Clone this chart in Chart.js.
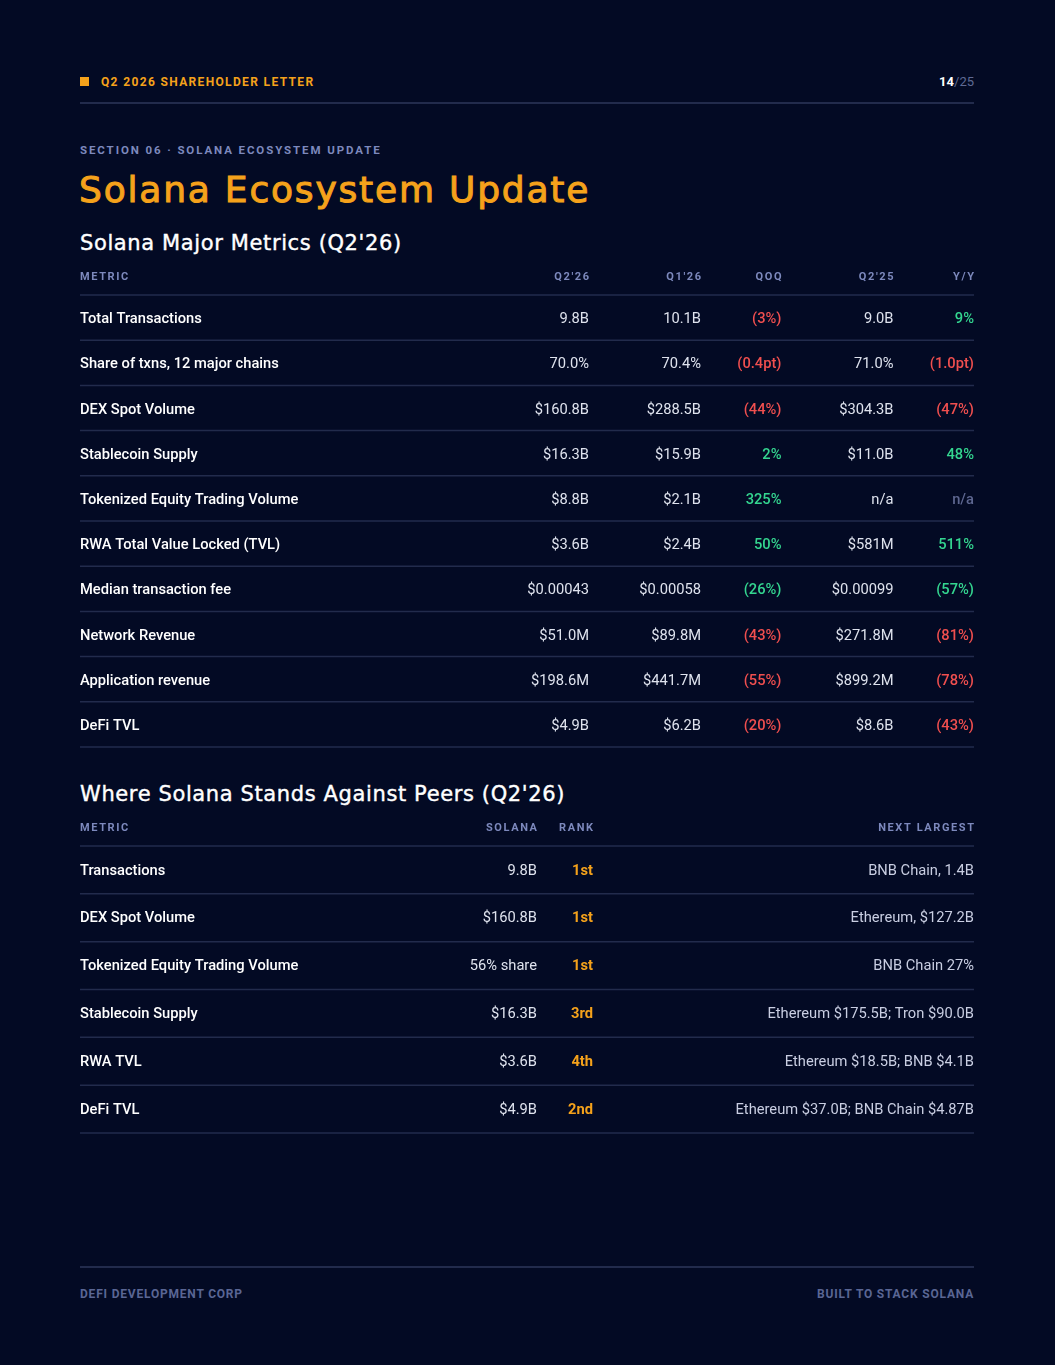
<!DOCTYPE html>
<html>
<head>
<meta charset="utf-8">
<script src="https://cdn.jsdelivr.net/npm/chart.js@4"></script>
<style>
  html, body { margin: 0; padding: 0; }
  body {
    width: 1055px; height: 1365px; position: relative; overflow: hidden;
    background: #030a24; font-family: Roboto, "Noto Sans", sans-serif;
  }
  .abs { position: absolute; white-space: nowrap; }
  .kicker { left: 80px; top: 75px; font-size: 12px; font-weight: 700; letter-spacing: 1.35px; color: #f5a21b; }
  .kicker i { display: inline-block; width: 9px; height: 9px; background: #f5a21b; margin-right: 12px; vertical-align: 0px; }
  .page { right: 81px; top: 74px; font-size: 13px; color: #5f6a94; }
  .page b { color: #ffffff; }
  .rule { left: 80px; width: 894px; height: 2px; background: #222b4c; }
  .section { left: 80px; top: 143px; font-size: 11.5px; font-weight: 700; letter-spacing: 1.9px; color: #7d89bd; }
  .title { left: 79px; top: 169px; font-family: "DejaVu Sans", sans-serif; font-size: 36px; font-weight: 400; -webkit-text-stroke: 1px #f5a21b; letter-spacing: 1.8px; color: #f5a21b; }
  .sub { left: 80px; font-family: "DejaVu Sans", sans-serif; font-size: 21px; font-weight: 400; -webkit-text-stroke: 0.4px #ffffff; letter-spacing: 0.62px; color: #ffffff; }
  .foot { top: 1287px; font-size: 12px; font-weight: 700; letter-spacing: 0.8px; color: #5a6694; }
  canvas { position: absolute; left: 80px; }
</style>
</head>
<body>
<div class="abs kicker"><i></i>Q2 2026 SHAREHOLDER LETTER</div>
<div class="abs page"><b>14</b>/25</div>
<div class="abs rule" style="top:102px"></div>
<div class="abs section">SECTION 06 · SOLANA ECOSYSTEM UPDATE</div>
<div class="abs title">Solana Ecosystem Update</div>
<div class="abs sub" style="top:231px">Solana Major Metrics (Q2'26)</div>
<div class="abs sub" style="top:782px">Where Solana Stands Against Peers (Q2'26)</div>
<canvas id="metricsTable" width="894" height="490" style="top:259px"></canvas>
<canvas id="peersTable" width="894" height="325" style="top:810px"></canvas>
<div class="abs rule" style="top:1266px"></div>
<div class="abs foot" style="left:80px">DEFI DEVELOPMENT CORP</div>
<div class="abs foot" style="right:81px">BUILT TO STACK SOLANA</div>

<script>
// table 1: major metrics
const metricHeaders = ['METRIC', "Q2'26", "Q1'26", 'QOQ', "Q2'25", 'Y/Y'];
const metricNames = [
  'Total Transactions', 'Share of txns, 12 major chains', 'DEX Spot Volume', 'Stablecoin Supply',
  'Tokenized Equity Trading Volume', 'RWA Total Value Locked (TVL)', 'Median transaction fee',
  'Network Revenue', 'Application revenue', 'DeFi TVL'
];
const q2_26 = ['9.8B', '70.0%', '$160.8B', '$16.3B', '$8.8B', '$3.6B', '$0.00043', '$51.0M', '$198.6M', '$4.9B'];
const q1_26 = ['10.1B', '70.4%', '$288.5B', '$15.9B', '$2.1B', '$2.4B', '$0.00058', '$89.8M', '$441.7M', '$6.2B'];
const qoq = ['(3%)', '(0.4pt)', '(44%)', '2%', '325%', '50%', '(26%)', '(43%)', '(55%)', '(20%)'];
const qoqTone = ['neg', 'neg', 'neg', 'pos', 'pos', 'pos', 'pos', 'neg', 'neg', 'neg'];
const q2_25 = ['9.0B', '71.0%', '$304.3B', '$11.0B', 'n/a', '$581M', '$0.00099', '$271.8M', '$899.2M', '$8.6B'];
const yoy = ['9%', '(1.0pt)', '(47%)', '48%', 'n/a', '511%', '(57%)', '(81%)', '(78%)', '(43%)'];
const yoyTone = ['pos', 'neg', 'neg', 'pos', 'na', 'pos', 'pos', 'neg', 'neg', 'neg'];

// table 2: peers
const peerHeaders = ['METRIC', 'SOLANA', 'RANK', 'NEXT LARGEST'];
const peerNames = ['Transactions', 'DEX Spot Volume', 'Tokenized Equity Trading Volume', 'Stablecoin Supply', 'RWA TVL', 'DeFi TVL'];
const solanaVals = ['9.8B', '$160.8B', '56% share', '$16.3B', '$3.6B', '$4.9B'];
const rankVals = ['1st', '1st', '1st', '3rd', '4th', '2nd'];
const nextLargest = [
  'BNB Chain, 1.4B', 'Ethereum, $127.2B', 'BNB Chain 27%', 'Ethereum $175.5B; Tron $90.0B',
  'Ethereum $18.5B; BNB $4.1B', 'Ethereum $37.0B; BNB Chain $4.87B'
];

const toneColor = { pos: '#34d690', neg: '#f04f4f', na: '#5d6690', plain: '#dfe3ee' };
const lineColor = '#222b4c';
const headColor = '#7d89bd';

function tablePlugin(columns, rowShift) {
  return {
    id: 'tableCells',
    afterDraw(chart) {
      const { ctx, chartArea, scales: { x, y } } = chart;
      const n = y.getLabels().length;
      ctx.save();
      ctx.textBaseline = 'middle';
      // header row
      ctx.font = '700 11px Roboto';
      ctx.letterSpacing = '1.6px';
      ctx.fillStyle = headColor;
      columns.forEach(col => {
        ctx.textAlign = col.align;
        const px = x.getPixelForValue(col.anchor) + (col.align === 'right' ? 1.6 : 0);
        ctx.fillText(col.head, px, chartArea.top - 18);
      });
      ctx.letterSpacing = '0px';
      // row separators
      ctx.strokeStyle = lineColor;
      ctx.lineWidth = 1.5;
      const edges = [chartArea.top];
      for (let i = 0; i < n; i++) {
        edges.push(i < n - 1 ? (y.getPixelForValue(i) + y.getPixelForValue(i + 1)) / 2 : chartArea.bottom);
      }
      edges.forEach(e => {
        ctx.beginPath();
        ctx.moveTo(x.getPixelForValue(x.min), e);
        ctx.lineTo(x.getPixelForValue(x.max), e);
        ctx.stroke();
      });
      // cells
      for (let i = 0; i < n; i++) {
        const py = y.getPixelForValue(i) + rowShift;
        columns.forEach(col => {
          ctx.textAlign = col.align;
          ctx.font = col.font;
          ctx.fillStyle = col.color(i);
          ctx.fillText(col.values[i], x.getPixelForValue(col.anchor), py);
        });
      }
      ctx.restore();
    }
  };
}

function makeTable(id, labels, columns, width, rowShift) {
  new Chart(document.getElementById(id), {
    type: 'bar',
    data: { labels: labels, datasets: [] },
    options: {
      indexAxis: 'y',
      responsive: false,
      animation: false,
      layout: { padding: { top: 36, bottom: 2, left: 0, right: 0 } },
      scales: {
        x: { type: 'linear', min: 0, max: width, display: false },
        y: { type: 'category', offset: true, display: false }
      },
      plugins: { legend: { display: false }, tooltip: { enabled: false } }
    },
    plugins: [tablePlugin(columns, rowShift)]
  });
}

const nameFont = '500 14.7px Roboto';
const valFont = '400 14.7px Roboto';
const pctFont = '500 14.7px Roboto';

makeTable('metricsTable', metricNames, [
  { head: metricHeaders[0], values: metricNames, anchor: 0, align: 'left', font: nameFont, color: () => '#ffffff' },
  { head: metricHeaders[1], values: q2_26, anchor: 509, align: 'right', font: valFont, color: () => toneColor.plain },
  { head: metricHeaders[2], values: q1_26, anchor: 621, align: 'right', font: valFont, color: () => toneColor.plain },
  { head: metricHeaders[3], values: qoq, anchor: 701.5, align: 'right', font: pctFont, color: i => toneColor[qoqTone[i]] },
  { head: metricHeaders[4], values: q2_25, anchor: 813.5, align: 'right', font: valFont, color: () => toneColor.plain },
  { head: metricHeaders[5], values: yoy, anchor: 894, align: 'right', font: pctFont, color: i => toneColor[yoyTone[i]] }
], 894, 2);

makeTable('peersTable', peerNames, [
  { head: peerHeaders[0], values: peerNames, anchor: 0, align: 'left', font: nameFont, color: () => '#ffffff' },
  { head: peerHeaders[1], values: solanaVals, anchor: 457, align: 'right', font: valFont, color: () => toneColor.plain },
  { head: peerHeaders[2], values: rankVals, anchor: 513, align: 'right', font: '700 14.7px Roboto', color: () => '#f5a21b' },
  { head: peerHeaders[3], values: nextLargest, anchor: 894, align: 'right', font: valFont, color: () => '#c9cee2' }
], 894, 1);
</script>
</body>
</html>
